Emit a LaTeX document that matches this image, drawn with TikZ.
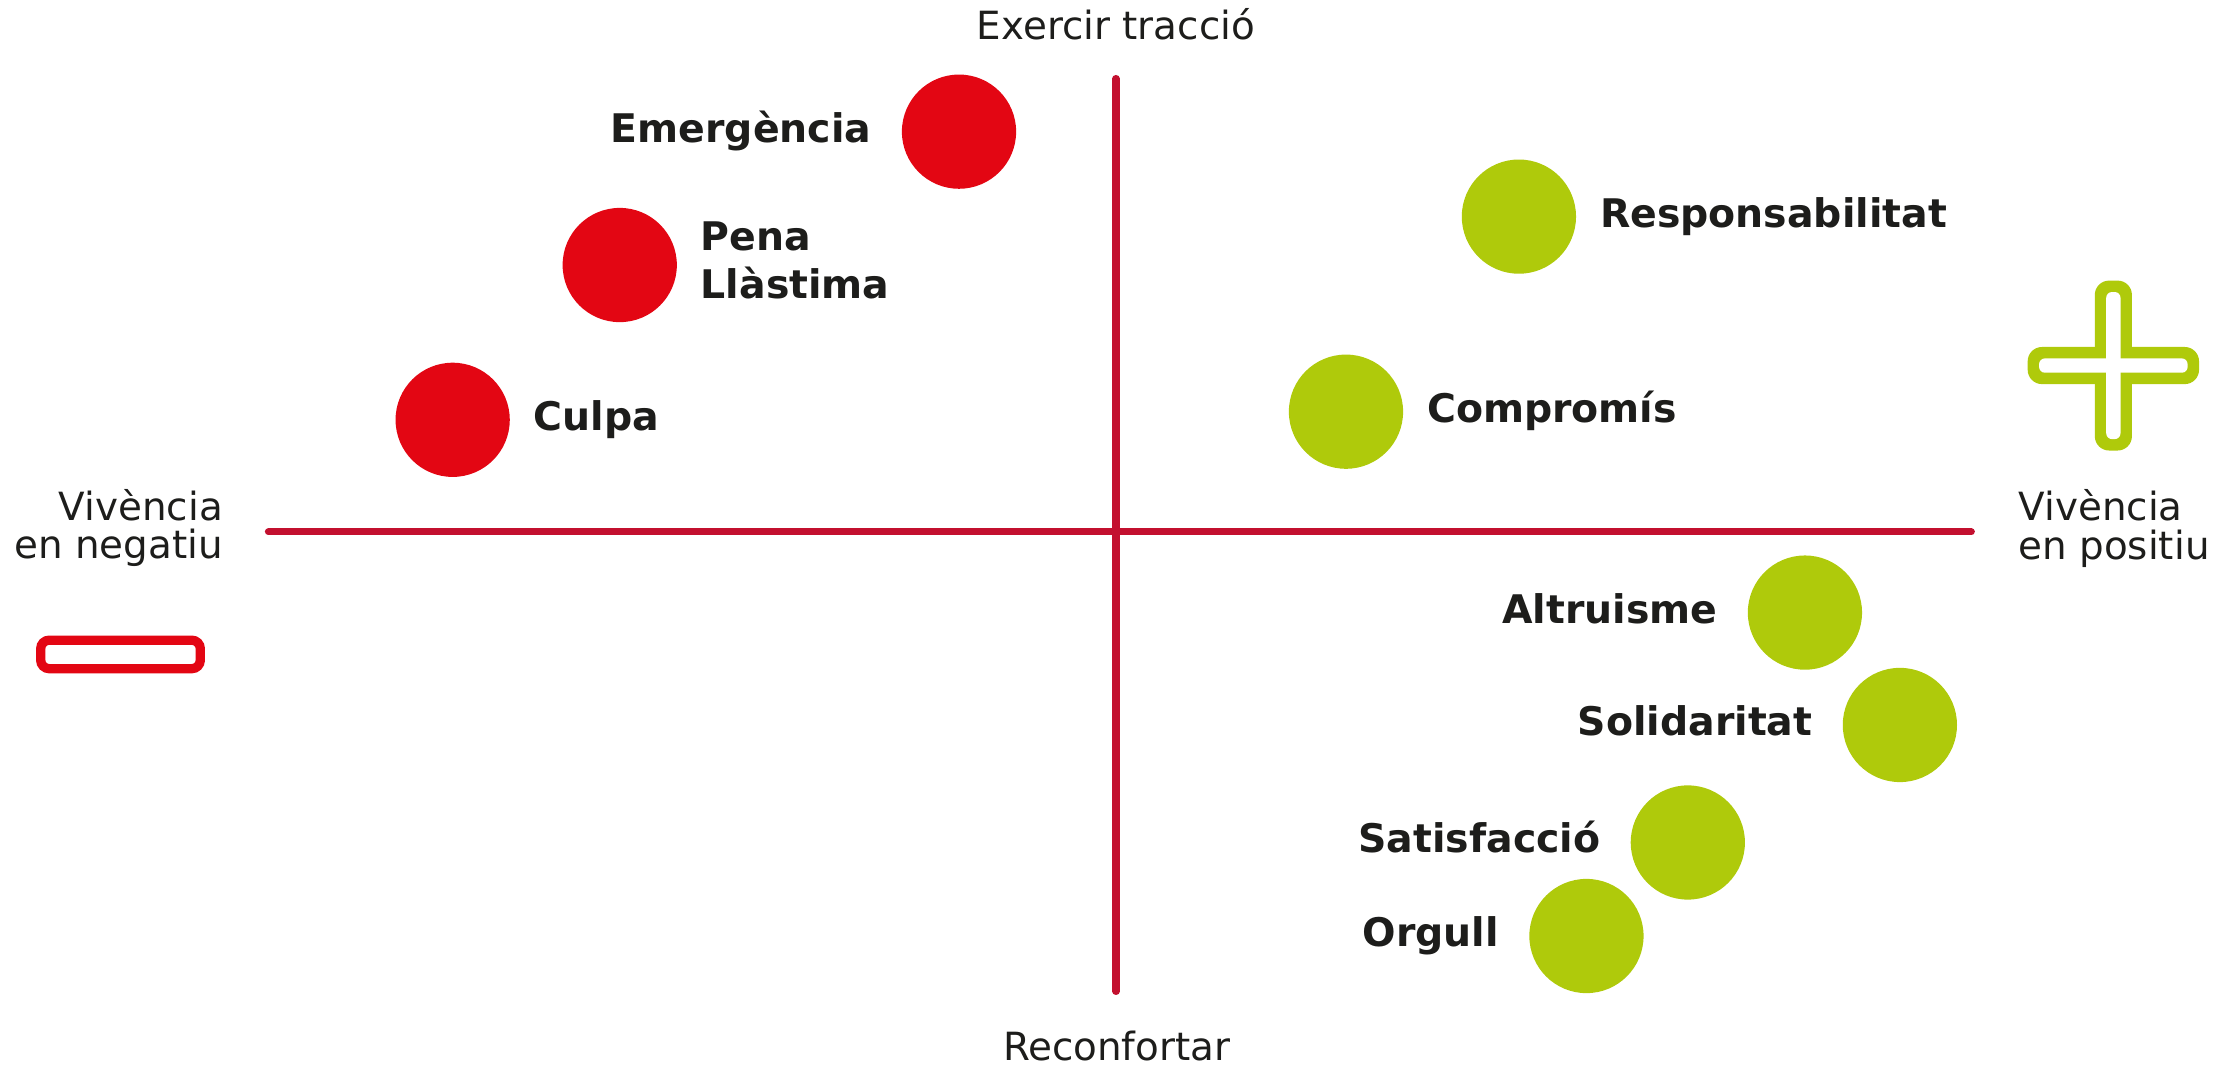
\documentclass[tikz,border=0pt]{standalone}
\usepackage{fontspec}
\setmainfont{DejaVu Sans}
\usetikzlibrary{positioning}
\definecolor{dotred}{HTML}{E30613}
\definecolor{dotgreen}{HTML}{AFCA0B}
\definecolor{axisred}{HTML}{C3102F}
\definecolor{ink}{HTML}{1D1D1B}
\begin{document}
\begin{tikzpicture}[x=1pt, y=-1pt, thick,
  axis/.style = {line width=5pt, axisred, line cap=round},
  pole/.style = {font=\fontsize{27.2}{27}\selectfont, text=ink, inner sep=0pt},
  dot/.style = {circle, inner sep=0pt, minimum size=80pt},
  bad/.style = {dot, fill=dotred},
  good/.style = {dot, fill=dotgreen},
  tag/.style = {font=\fontsize{27.6}{33.4}\selectfont\bfseries, text=ink, inner sep=0pt, text height=20.1pt, text depth=5.5pt}]
\useasboundingbox (0,0) rectangle (1568,746.5);
% eixos
\coordinate (N) at (781.5,55);
\coordinate (S) at (781.5,694.3);
\coordinate (W) at (188,372.5);
\coordinate (E) at (1380.5,372.5);
\draw[axis] (N) -- (S);
\draw[axis] (W) -- (E);
\node[pole, anchor=base] (ltop) at (781.5,28) {Exercir tracció};
\node[pole, anchor=base] (lbot) at (782,742.5) {Reconfortar};
\node[pole, anchor=base east, align=right] (lneg) at (156.4,391.3) {Vivència\\en negatiu};
\node[pole, anchor=base west, align=left] (lpos) at (1413.3,391.5) {Vivència\\en positiu};
% signes
\node[draw=dotred, line width=6.5pt, rounded corners=6pt, minimum width=111.8pt, minimum height=20pt, inner sep=0pt] (minus) at (84.4,458.3) {};
\begin{scope}[shift={(1480,256)}]
\fill[dotgreen, rounded corners=10pt] (-13,-59.5) rectangle (13,59.5);
\fill[dotgreen, rounded corners=10pt] (-60,-13) rectangle (60,13);
\fill[white, rounded corners=4pt] (-5,-51.5) rectangle (5,51.5);
\fill[white, rounded corners=4pt] (-52,-5) rectangle (52,5);
\end{scope}
% punts
\node[bad] (emerg) at (671.6,92.2) {};
\node[bad] (pena) at (434,185.6) {};
\node[bad] (culpa) at (317,294) {};
\node[good] (resp) at (1063.7,151.7) {};
\node[good] (comp) at (942.6,288.3) {};
\node[good] (altr) at (1264,429) {};
\node[good] (solid) at (1330.5,507.7) {};
\node[good] (satis) at (1182,590) {};
\node[good] (orgull) at (1111,655.5) {};
\node[tag, left=20.5pt of emerg] (temerg) {Emergència};
\node[tag, right=16pt of pena, align=left, text height=, text depth=, yshift=3pt] (tpena) {Pena\\Llàstima};
\node[tag, right=16pt of culpa] (tculpa) {Culpa};
\node[tag, right=16pt of resp] (tresp) {Responsabilitat};
\node[tag, right=16pt of comp] (tcomp) {Compromís};
\node[tag, left=20.5pt of altr] (taltr) {Altruisme};
\node[tag, left=20.5pt of solid] (tsolid) {Solidaritat};
\node[tag, left=20.5pt of satis] (tsatis) {Satisfacció};
\node[tag, left=20.5pt of orgull] (torgull) {Orgull};
\end{tikzpicture}
\end{document}
